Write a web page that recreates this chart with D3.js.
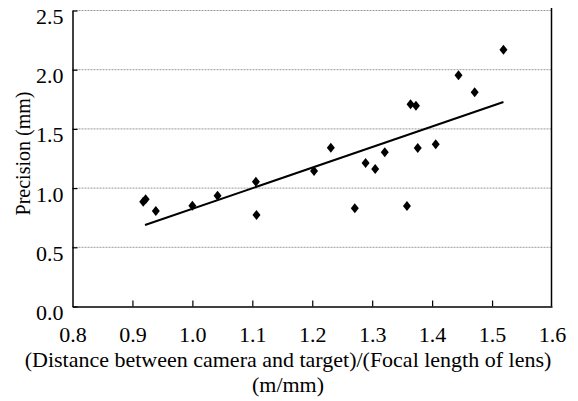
<!DOCTYPE html>
<html>
<head>
<meta charset="utf-8">
<script src="https://cdn.jsdelivr.net/npm/d3@7"></script>
<style>
  html, body { margin: 0; padding: 0; background: #fff; }
  svg { display: block; font-family: "Liberation Serif", "Times New Roman", serif; }
</style>
</head>
<body>
<svg id="chart" width="578" height="401"></svg>
<script>
// Distance/focal-length ratio (m/mm) for each measurement
const ratio = [0.918, 0.922, 0.939, 1.000, 1.042, 1.106, 1.107, 1.203, 1.231, 1.271,
               1.289, 1.305, 1.321, 1.358, 1.364, 1.373, 1.376, 1.406, 1.444, 1.471, 1.519];
// Measured precision (mm)
const precision = [0.885, 0.905, 0.807, 0.851, 0.936, 1.054, 0.773, 1.144, 1.341, 0.829,
                   1.212, 1.161, 1.302, 0.849, 1.708, 1.696, 1.339, 1.370, 1.953, 1.809, 2.169];
// Linear trend line endpoints
const trendX = [0.921, 1.519];
const trendY = [0.688, 1.727];

const xTicks = [0.8, 0.9, 1.0, 1.1, 1.2, 1.3, 1.4, 1.5, 1.6];
const yTicks = [0.0, 0.5, 1.0, 1.5, 2.0, 2.5];

// horizontal widening applied to the text glyphs
const SX = 1.1;

const svg = d3.select("#chart");
const x = d3.scaleLinear().domain([0.8, 1.6]).range([72.5, 552]);
const y = d3.scaleLinear().domain([0, 2.5]).range([306.5, 10.5]);

// horizontal grid lines
svg.append("g").selectAll("line").data(yTicks.filter(d => d > 0)).join("line")
  .attr("x1", x(0.8)).attr("x2", x(1.6))
  .attr("y1", d => y(d)).attr("y2", d => y(d))
  .attr("stroke", "#9a9a9a").attr("stroke-width", 1)
  .attr("stroke-dasharray", "2,1");

// right frame line
svg.append("line")
  .attr("x1", x(1.6) - 0.5).attr("x2", x(1.6) - 0.5)
  .attr("y1", y(2.5) - 2.5).attr("y2", y(0))
  .attr("stroke", "#000").attr("stroke-width", 1.5);

// x axis (ticks point inward)
const xAxis = d3.axisBottom(x).tickValues(xTicks).tickFormat(d3.format(".1f"))
  .tickSizeInner(-6).tickSizeOuter(0).tickPadding(21);
const gx = svg.append("g").attr("transform", `translate(0,${y(0)})`).call(xAxis);
gx.select(".domain").attr("stroke-width", 1.5);
gx.selectAll(".tick line").attr("stroke-width", 1.2);
gx.selectAll(".tick text").attr("font-size", 20).attr("fill", "#000")
  .attr("font-family", "Liberation Serif")
  .attr("transform", `scale(${SX},1)`);
gx.selectAll(".tick").filter(d => d === 0.8 || d === 1.6).select("line").remove();

// y axis (ticks point inward, labels sit slightly below their tick)
const yAxis = d3.axisLeft(y).tickValues(yTicks).tickFormat(d3.format(".1f"))
  .tickSizeInner(-5).tickSizeOuter(0).tickPadding(9);
const gy = svg.append("g").attr("transform", `translate(${x(0.8)},0)`).call(yAxis);
gy.select(".domain").attr("stroke-width", 1.5);
gy.selectAll(".tick line").attr("stroke-width", 1.2);
gy.selectAll(".tick text").attr("font-size", 20).attr("fill", "#000")
  .attr("font-family", "Liberation Serif")
  .attr("x", -9 / SX).attr("y", 6.5)
  .attr("transform", `scale(${SX},1)`);

// trend line
svg.append("line")
  .attr("x1", x(trendX[0])).attr("y1", y(trendY[0]))
  .attr("x2", x(trendX[1])).attr("y2", y(trendY[1]))
  .attr("stroke", "#000").attr("stroke-width", 2);

// data markers (diamonds)
const pts = ratio.map((r, i) => [r, precision[i]]);
svg.append("g").selectAll("path").data(pts).join("path")
  .attr("transform", d => `translate(${x(d[0])},${y(d[1])})`)
  .attr("d", "M0,-5L4,0L0,5L-4,0Z")
  .attr("fill", "#000");

// axis titles
svg.append("text")
  .attr("transform", `translate(30,${(y(0) + y(2.5)) / 2 - 5}) scale(${SX},1) rotate(-90)`)
  .attr("text-anchor", "middle").attr("font-size", 20).attr("fill", "#000")
  .text("Precision (mm)");
svg.append("text")
  .attr("transform", `translate(288,367) scale(${SX},1)`)
  .attr("text-anchor", "middle").attr("font-size", 20).attr("fill", "#000")
  .text("(Distance between camera and target)/(Focal length of lens)");
svg.append("text")
  .attr("transform", `translate(288,392) scale(${SX},1)`)
  .attr("text-anchor", "middle").attr("font-size", 20).attr("fill", "#000")
  .text("(m/mm)");
</script>
</body>
</html>
